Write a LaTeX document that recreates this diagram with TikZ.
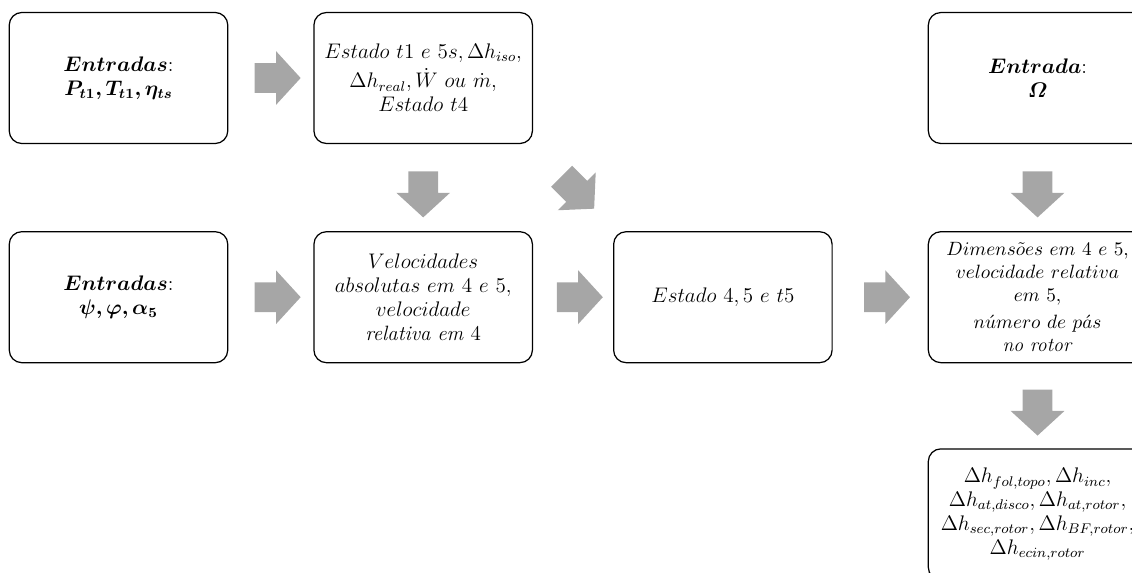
\documentclass[tikz,border=0pt]{standalone}
\usepackage{amsmath}
\usepackage{bm}
\definecolor{setagray}{RGB}{166,166,166}
\usetikzlibrary{positioning, shapes.arrows}
\tikzset{
	caixa/.style={rectangle, rounded corners=0.25cm, draw=black, line width=0.7pt, align=center, text width=4.3cm, minimum width=4.36cm, minimum height=2.62cm, inner sep=1pt, font=\fontsize{11.8}{13.6}\selectfont},
	seta/.style={single arrow, fill=setagray, draw=none, inner xsep=0pt, inner ysep=0.29cm, minimum height=0.92cm, single arrow head extend=0.24cm, single arrow tip angle=95},
}

\begin{document}
\begin{tikzpicture}[x=0.02cm, y=-0.02cm, node distance=1.74cm and 1.7cm]
		\useasboundingbox (0,0) rectangle (1132,572);
		\clip (0,0) rectangle (1132,572);
		\node[caixa] (entradasP) at (118.5,78) {$\bm{Entradas}$:\\ $\bm{P_{t1}, T_{t1}, \eta_{ts}}$};
		\node[caixa, right=of entradasP] (estadoT1) {$Estado\ t1\ e\ 5s, \Delta h_{iso},$\\[3pt] $\Delta h_{real}, \dot{W}\ ou\ \dot{m},$\\ $Estado\ t4$};
		\node[caixa, below=of entradasP] (entradasPsi) {$\bm{Entradas}$:\\ $\bm{\psi, \varphi, \alpha_5}$};
		\node[caixa, below=of estadoT1] (velocidades) {$Velocidades$\\ $absolutas\ em\ 4\ e\ 5,$\\ $velocidade$\\ \textit{relativa em} $4$};
		\node[caixa, right=1.6cm of velocidades] (estado45) {$Estado\ 4, 5\ e\ t5$};
		\node[caixa, right=1.9cm of estado45, font=\fontsize{11.2}{13.2}\selectfont] (dimensoes) {$Dimens\tilde{o}es\ em\ 4\ e\ 5,$\\ $velocidade\ relativa$\\ $em\ 5,$\\[2pt] $n\acute{u}mero\ de\ p\acute{a}s$\\ \textit{no rotor}};
		\node[caixa, above=of dimensoes] (entradaOmega) {$\bm{Entrada}$:\\ $\bm{\varOmega}$};
		\node[caixa, below=1.7cm of dimensoes] (perdas) {$\Delta h_{fol,topo}, \Delta h_{inc},$\\ $\Delta h_{at,disco}, \Delta h_{at,rotor},$\\ $\Delta h_{sec,rotor}, \Delta h_{BF,rotor},$\\ $\Delta h_{ecin,rotor}$};
		% setas largas entre as caixas
		\foreach \a/\b in {entradasP/estadoT1, entradasPsi/velocidades, velocidades/estado45, estado45/dimensoes, estadoT1/velocidades, entradaOmega/dimensoes, dimensoes/perdas}{\path (\a) -- node[seta, sloped]{} (\b);}
		\path (estadoT1) -- node[seta, rotate=-45]{} (estado45);
	\end{tikzpicture}
\end{document}
